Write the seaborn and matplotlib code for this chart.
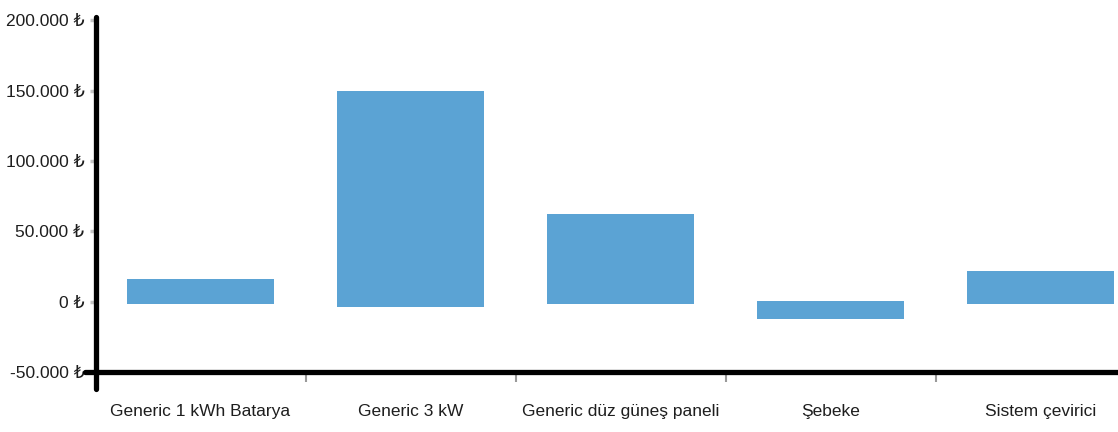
import matplotlib
matplotlib.use("Agg")
import matplotlib.pyplot as plt
from matplotlib import font_manager
import seaborn as sns
import pandas as pd

# ---- data ----
categories = ["Generic 1 kWh Batarya", "Generic 3 kW", "Generic düz güneş paneli", "Şebeke", "Sistem çevirici"]
positive_part = [15900, 150000, 62000, 700, 21500]
negative_part = [-1400, -3500, -1400, -12000, -1400]
y_ticks = [-50000, 0, 50000, 100000, 150000, 200000]
y_tick_labels = ["-50.000 ₺", "0 ₺", "50.000 ₺", "100.000 ₺", "150.000 ₺", "200.000 ₺"]

sns.set_theme(style="white")
names = {f.name for f in font_manager.fontManager.ttflist}
fam = [n for n in ["Liberation Sans Narrow", "Liberation Sans", "DejaVu Sans"] if n in names]
plt.rcParams["font.family"] = fam

df = pd.DataFrame({
    "cat": categories * 2,
    "val": positive_part + negative_part,
    "part": ["pos"] * len(categories) + ["neg"] * len(categories),
})

W, H = 1118, 432
fig = plt.figure(figsize=(W / 100, H / 100), dpi=100)
ax = fig.add_axes([95.5 / W, (H - 372) / H, 1050 / W, 355 / H])

bar_color = "#5ba3d4"
sns.barplot(data=df, x="cat", y="val", hue="part", order=categories,
            palette={"pos": bar_color, "neg": bar_color}, dodge=False,
            width=0.7, saturation=1, legend=False, ax=ax, linewidth=0)

ax.set_xlim(-0.5, 4.5)
ax.set_ylim(-50000, 202400)
ax.set_xlabel("")
ax.set_ylabel("")

for s in ["top", "right"]:
    ax.spines[s].set_visible(False)
for s in ["left", "bottom"]:
    ax.spines[s].set_linewidth(3.8)
    ax.spines[s].set_color("black")
    ax.spines[s].set_capstyle("round")
ax.spines["left"].set_bounds(-62000, 202400)
ax.spines["bottom"].set_bounds(-0.55, 4.5)

text_color = "#1e1e1e"
fs = 12.5
ax.set_yticks(y_ticks)
ax.set_yticklabels(y_tick_labels, fontsize=fs, color=text_color)
ax.tick_params(axis="y", which="major", length=4, width=2.5, color="#c4c4c4", pad=4, left=True)

ax.set_xticks([0.5, 1.5, 2.5, 3.5, 4.5])
ax.set_xticklabels([""] * 5)
ax.tick_params(axis="x", which="major", length=7, width=1.5, color="#9a9a9a", bottom=True)
ax.set_xticks(range(len(categories)), minor=True)
ax.set_xticklabels(categories, minor=True, fontsize=fs, color=text_color)
ax.tick_params(axis="x", which="minor", length=0, pad=23)
ax.grid(False)

fig.savefig("out.png", dpi=100, facecolor="white")
